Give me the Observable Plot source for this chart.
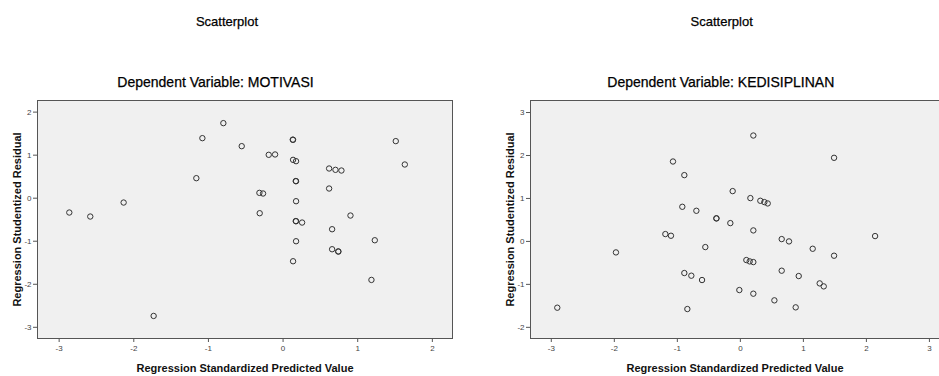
<!DOCTYPE html>
<html>
<head>
<meta charset="utf-8">
<script src="https://cdn.jsdelivr.net/npm/d3@7"></script>
<script src="https://cdn.jsdelivr.net/npm/@observablehq/plot@0.6"></script>
<style>
  html, body { margin: 0; padding: 0; background: #fff; overflow: hidden; }
  #root { position: relative; width: 939px; height: 376px; font-family: Arial, "Liberation Sans", sans-serif; color: #000; }
  .panel { position: absolute; top: 0; height: 376px; }
  .t { position: absolute; white-space: nowrap; transform: translateX(-50%); line-height: 1; -webkit-text-stroke: 0.25px #000; }
  .title { font-size: 13px; top: 15px; }
  .sub { font-size: 14px; top: 75px; }
  svg { position: absolute; left: 0; top: 0; }
</style>
</head>
<body>
<div id="root"></div>
<script>
// ---- Data: left chart (Dependent Variable: MOTIVASI) ----
const motivasiPred = [-2.864, -2.583, -2.136, -1.734, -1.162, -1.081, -0.800, -0.554, -0.192, -0.107,
  -0.317, -0.268, -0.313, 0.134, 0.130, 0.134, 0.174, 0.174, 0.170, 0.174, 0.174, 0.170, 0.255, 0.174, 0.134,
  0.617, 0.702, 0.782, 0.617, 0.903, 0.657, 0.657, 0.742, 0.738, 1.229, 1.184, 1.510, 1.631];
const motivasiResid = [-0.333, -0.426, -0.101, -2.736, 0.465, 1.395, 1.744, 1.209, 1.008, 1.016,
  0.124, 0.109, -0.349, 1.357, 1.360, 0.891, 0.860, 0.395, 0.398, -0.070, -0.535, -0.532, -0.566, -1.000, -1.465,
  0.690, 0.659, 0.643, 0.225, -0.403, -0.721, -1.186, -1.240, -1.237, -0.977, -1.899, 1.326, 0.783];

// ---- Data: right chart (Dependent Variable: KEDISIPLINAN) ----
const disiplinPred = [-2.905, -1.974, -1.190, -1.101, -1.069, -0.889, -0.921, -0.698, -0.381, -0.379,
  -0.556, -0.889, -0.778, -0.608, -0.841, -0.122, -0.159, 0.206, 0.159, 0.317, 0.381, 0.434, 0.206,
  0.095, 0.148, 0.206, -0.016, 0.206, 0.540, 0.656, 0.772, 0.656, 0.926, 0.878, 1.148, 1.259, 1.323,
  1.487, 1.487, 2.138];
const disiplinResid = [-1.543, -0.256, 0.171, 0.132, 1.860, 1.543, 0.806, 0.713, 0.535, 0.538,
  -0.132, -0.736, -0.798, -0.899, -1.574, 1.171, 0.426, 2.465, 1.008, 0.946, 0.915, 0.884, 0.256,
  -0.434, -0.465, -0.481, -1.132, -1.217, -1.372, 0.054, 0.000, -0.682, -0.806, -1.535, -0.171, -0.977, -1.047,
  1.946, -0.333, 0.124];

const xTicksLeft = [-3, -2, -1, 0, 1, 2];
const yTicksLeft = [-3, -2, -1, 0, 1, 2];
const xTicksRight = [-3, -2, -1, 0, 1, 2, 3];
const yTicksRight = [-2, -1, 0, 1, 2, 3];

const chartTitle = "Scatterplot";
const subLeft = "Dependent Variable: MOTIVASI";
const subRight = "Dependent Variable: KEDISIPLINAN";
const xLabel = "Regression Standardized Predicted Value";
const yLabel = "Regression Studentized Residual";

const leftData = motivasiPred.map((x, i) => ({x, y: motivasiResid[i]}));
const rightData = disiplinPred.map((x, i) => ({x, y: disiplinResid[i]}));

const FONT = 'Arial, "Liberation Sans", sans-serif';
const fmt = d => String(d);

function makePlot({data, width, marginLeft, marginRight, xDomain, yDomain, xTicks, yTicks, fullFrame}) {
  const frameMarks = fullFrame
    ? [Plot.frame({stroke: "#555", strokeWidth: 1})]
    : [
        Plot.ruleY([yDomain[1]], {stroke: "#555", strokeWidth: 1}),
        Plot.ruleY([yDomain[0]], {stroke: "#555", strokeWidth: 1}),
        Plot.ruleX([xDomain[0]], {stroke: "#555", strokeWidth: 1})
      ];
  return Plot.plot({
    width, height: 376,
    marginTop: 100, marginBottom: 38, marginLeft, marginRight,
    style: {fontFamily: FONT, background: "transparent", color: "#333"},
    x: {domain: xDomain},
    y: {domain: yDomain},
    marks: [
      Plot.frame({fill: "#f0f0f0", stroke: null}),
      Plot.axisX({ticks: xTicks, tickFormat: fmt, tickSize: 4, tickPadding: 3, fontSize: 8, stroke: "#555", fill: "#444",
        label: xLabel, labelAnchor: "center", labelOffset: 33, labelArrow: false}),
      Plot.axisY({ticks: yTicks, tickFormat: fmt, tickSize: 4, tickPadding: 2, fontSize: 8, stroke: "#555", fill: "#444",
        label: yLabel, labelAnchor: "center", labelOffset: 24, labelArrow: false}),
      ...frameMarks,
      Plot.dot(data, {x: "x", y: "y", r: 2.7, stroke: "#333", strokeWidth: 1, fill: "none"})
    ]
  });
}

function styleLabels(svg) {
  const gs = svg.querySelectorAll("g[aria-label='x-axis label'], g[aria-label='y-axis label']");
  gs.forEach(g => { g.setAttribute("font-weight", "bold"); g.setAttribute("font-size", "11"); g.setAttribute("fill", "#111"); });
}

const root = document.getElementById("root");

function addPanel(left, width, svg, titleX, subX, sub) {
  const p = document.createElement("div");
  p.className = "panel";
  p.style.left = left + "px";
  p.style.width = width + "px";
  p.appendChild(svg);
  const t = document.createElement("div");
  t.className = "t title"; t.textContent = chartTitle; t.style.left = titleX + "px";
  const s = document.createElement("div");
  s.className = "t sub"; s.textContent = sub; s.style.left = subX + "px";
  p.appendChild(t); p.appendChild(s);
  root.appendChild(p);
}

const leftSvg = makePlot({data: leftData, width: 470, marginLeft: 37, marginRight: 18,
  xDomain: [-3.29, 2.27], yDomain: [-3.26, 2.27], xTicks: xTicksLeft, yTicks: yTicksLeft, fullFrame: true});
styleLabels(leftSvg);
addPanel(0, 470, leftSvg, 227, 215.5, subLeft);

const rightSvg = makePlot({data: rightData, width: 469, marginLeft: 60, marginRight: 0,
  xDomain: [-3.33, 3.16], yDomain: [-2.26, 3.28], xTicks: xTicksRight, yTicks: yTicksRight, fullFrame: false});
styleLabels(rightSvg);
addPanel(470, 469, rightSvg, 251.7, 250.8, subRight);
</script>
</body>
</html>
